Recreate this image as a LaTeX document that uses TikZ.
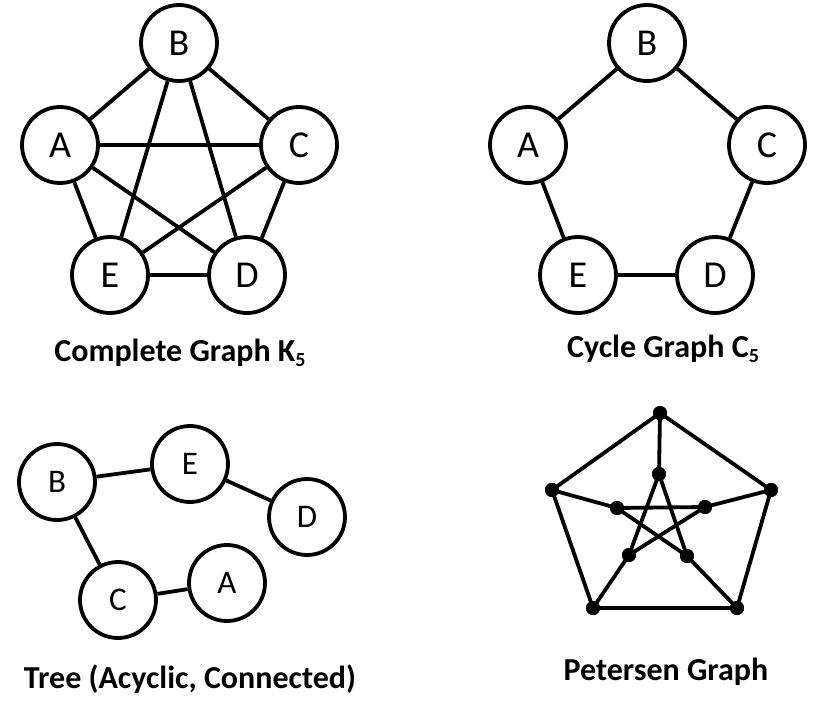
\documentclass[tikz,border=0pt]{standalone}
\usepackage{fontspec}
\setmainfont{Carlito}
\begin{document}
\begin{tikzpicture}[x=1pt,y=-1pt,
  vtx/.style={circle,draw=black,line width=3.8pt,fill=white,minimum size=76pt,inner sep=0pt,font=\fontsize{38}{38}\selectfont},
  tvtx/.style={vtx,font=\fontsize{33}{33}\selectfont},
  dot/.style={circle,fill=black,inner sep=0pt,minimum size=14pt},
  edge/.style={line width=3.8pt,draw=black},
  lbl/.style={font=\fontsize{32}{32}\selectfont\bfseries,anchor=base}]
\useasboundingbox (0,0) rectangle (823,704);
% Complete graph K5
\node[vtx] (kB) at (179,43) {B};
\node[vtx] (kA) at (60,145) {A};
\node[vtx] (kC) at (299,145) {C};
\node[vtx] (kE) at (110,275) {E};
\node[vtx] (kD) at (247,275) {D};
\foreach \u/\v in {kA/kB,kB/kC,kC/kD,kD/kE,kE/kA,kA/kC,kA/kD,kB/kE,kB/kD,kC/kE}
  \draw[edge] (\u) -- (\v);
\node[lbl] (klbl) at (180,361) {Complete Graph K\raisebox{-5pt}{\fontsize{20}{20}\selectfont 5}};
% Cycle graph C5
\node[vtx] (cB) at (647,43) {B};
\node[vtx] (cA) at (528,145) {A};
\node[vtx] (cC) at (767,145) {C};
\node[vtx] (cE) at (578,275) {E};
\node[vtx] (cD) at (715,275) {D};
\foreach \u/\v in {cA/cB,cB/cC,cC/cD,cD/cE,cE/cA}
  \draw[edge] (\u) -- (\v);
\node[lbl] (clbl) at (663,357) {Cycle Graph C\raisebox{-5pt}{\fontsize{20}{20}\selectfont 5}};
% Tree
\node[tvtx] (tB) at (57,482) {B};
\node[tvtx] (tE) at (190,464) {E};
\node[tvtx] (tD) at (307,517) {D};
\node[tvtx] (tC) at (118,600) {C};
\node[tvtx] (tA) at (227,583) {A};
\foreach \u/\v in {tB/tE,tE/tD,tB/tC,tC/tA}
  \draw[edge] (\u) -- (\v);
\node[lbl] (tlbl) at (190,688) {Tree (Acyclic, Connected)};
% Petersen graph
\node[dot] (o1) at (660,413) {};
\node[dot] (o2) at (771,490) {};
\node[dot] (o3) at (737,608) {};
\node[dot] (o4) at (593,608) {};
\node[dot] (o5) at (552,490) {};
\node[dot] (i1) at (659,474) {};
\node[dot] (i2) at (705,507) {};
\node[dot] (i3) at (687,556) {};
\node[dot] (i4) at (629,555) {};
\node[dot] (i5) at (617,508) {};
\foreach \u/\v in {o1/o2,o2/o3,o3/o4,o4/o5,o5/o1,o1/i1,o2/i2,o3/i3,o4/i4,o5/i5,i1/i3,i3/i5,i5/i2,i2/i4,i4/i1}
  \draw[edge] (\u.center) -- (\v.center);
\foreach \n in {o1,o2,o3,o4,o5,i1,i2,i3,i4,i5}
  \fill (\n) circle (7pt);
\node[lbl] (plbl) at (666,680) {Petersen Graph};
\end{tikzpicture}
\end{document}
